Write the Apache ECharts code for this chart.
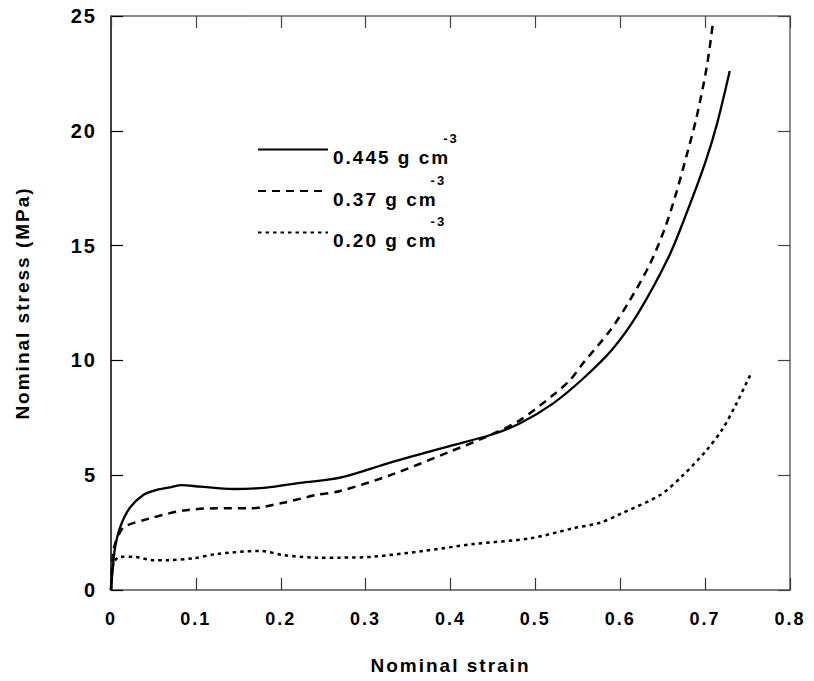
<!DOCTYPE html>
<html>
<head>
<meta charset="utf-8">
<script src="https://cdn.jsdelivr.net/npm/echarts@6/dist/echarts.min.js"></script>
<style>html,body{margin:0;padding:0;background:#fff}#c{width:814px;height:681px}#c text{letter-spacing:2px}</style>
</head>
<body>
<div id="c"></div>
<script>
// Data
var strain445 = [0, 0.002, 0.005, 0.011, 0.022, 0.038, 0.054, 0.07, 0.083, 0.105, 0.144, 0.183, 0.223, 0.27, 0.329, 0.399, 0.447, 0.482, 0.521, 0.556, 0.59, 0.621, 0.657, 0.678, 0.7, 0.714, 0.729];
var stress445 = [0, 0.9, 1.89, 2.76, 3.57, 4.14, 4.36, 4.47, 4.57, 4.5, 4.4, 4.46, 4.67, 4.89, 5.55, 6.27, 6.75, 7.26, 8.13, 9.2, 10.45, 12.05, 14.5, 16.4, 18.6, 20.3, 22.6];
var strain37 = [0, 0.003, 0.009, 0.016, 0.046, 0.085, 0.125, 0.164, 0.203, 0.242, 0.27, 0.329, 0.399, 0.447, 0.482, 0.521, 0.541, 0.556, 0.588, 0.611, 0.635, 0.653, 0.666, 0.678, 0.69, 0.702, 0.709];
var stress37 = [0, 1.74, 2.4, 2.76, 3.12, 3.46, 3.56, 3.56, 3.8, 4.14, 4.31, 5.0, 6.02, 6.75, 7.4, 8.49, 9.15, 9.87, 11.3, 12.6, 14.2, 15.8, 17.3, 18.9, 20.6, 22.8, 24.65];
var strain20 = [0, 0.003, 0.011, 0.026, 0.05, 0.066, 0.097, 0.125, 0.176, 0.203, 0.242, 0.27, 0.309, 0.368, 0.427, 0.494, 0.545, 0.576, 0.6, 0.647, 0.674, 0.702, 0.721, 0.737, 0.755];
var stress20 = [0, 1.17, 1.45, 1.45, 1.3, 1.3, 1.38, 1.57, 1.7, 1.52, 1.41, 1.41, 1.45, 1.70, 2.0, 2.25, 2.69, 2.93, 3.31, 4.14, 5.0, 6.1, 7.04, 8.13, 9.51];
var seriesNames = ['0.445 g cm', '0.37 g cm', '0.20 g cm'];
var unitSup = '-3';
var xName = 'Nominal strain';
var yName = 'Nominal stress (MPa)';

function pairs(xs, ys) { return xs.map(function (x, i) { return [x, ys[i]]; }); }

var FONT = '"Liberation Sans", Arial, sans-serif';
var SPACING = 2; // matches the CSS letter-spacing
var chart = echarts.init(document.getElementById('c'), null, { renderer: 'svg' });
var nameStyle = { fontFamily: FONT, fontWeight: 'bold', fontSize: 19, color: '#000' };

// rich styles for legend: the superscript is shifted by the extra width that letter-spacing adds
var legendRich = { b: { fontFamily: FONT, fontWeight: 'bold', fontSize: 19, color: '#000', padding: [16, 0, 0, 0] } };
seriesNames.forEach(function (n) {
  legendRich['s' + n.length] = { fontFamily: FONT, fontWeight: 'bold', fontSize: 13, color: '#000',
    verticalAlign: 'top', padding: [0, 0, 0, SPACING * (n.length - 2) - 3] };
});

function secAxisLine() { return { show: true, onZero: false, lineStyle: { color: '#666', width: 1.5 } }; }
function secTick() { return { show: true, inside: true, length: 12, lineStyle: { color: '#444', width: 1.2 } }; }

chart.setOption({
  animation: false,
  backgroundColor: '#fff',
  grid: { left: 111, right: 24, top: 16, bottom: 91, containLabel: false },
  legend: {
    orient: 'vertical', left: 252, top: 127,
    itemWidth: 70, itemHeight: 14, itemGap: 6.5,
    itemStyle: { opacity: 0 },
    data: seriesNames,
    formatter: function (n) { return '{b|' + n + '}{s' + n.length + '|' + unitSup + '}'; },
    textStyle: { rich: legendRich }
  },
  xAxis: [{
    type: 'value', min: 0, max: 0.8, interval: 0.1, position: 'bottom',
    name: xName, nameLocation: 'middle', nameGap: 66, nameTextStyle: nameStyle,
    axisLine: { show: true, onZero: false, lineStyle: { color: '#555', width: 1.5 } },
    axisTick: { show: true, inside: true, length: 12, lineStyle: { color: '#333', width: 1.2 } },
    axisLabel: { margin: 20, fontFamily: FONT, fontWeight: 'bold', fontSize: 18, color: '#000',
      formatter: function (v) { return v === 0 ? '0' : v.toFixed(1); } },
    splitLine: { show: false }
  }, {
    type: 'value', min: 0, max: 0.8, interval: 0.1, position: 'top',
    axisLine: secAxisLine(), axisTick: secTick(),
    axisLabel: { show: false }, splitLine: { show: false }
  }],
  yAxis: [{
    type: 'value', min: 0, max: 25, interval: 5, position: 'left',
    name: yName, nameLocation: 'middle', nameGap: 79, nameTextStyle: nameStyle,
    axisLine: { show: true, onZero: false, lineStyle: { color: '#000', width: 1.5 } },
    axisTick: { show: true, inside: true, length: 12, lineStyle: { color: '#000', width: 1.2 } },
    axisLabel: { margin: 14, fontFamily: FONT, fontWeight: 'bold', fontSize: 20, color: '#000' },
    splitLine: { show: false }
  }, {
    type: 'value', min: 0, max: 25, interval: 5, position: 'right',
    axisLine: secAxisLine(), axisTick: secTick(),
    axisLabel: { show: false }, splitLine: { show: false }
  }],
  series: [{
    name: seriesNames[0], type: 'line', data: pairs(strain445, stress445), smooth: 0.3,
    symbol: 'none', lineStyle: { color: '#000', width: 2.3, type: 'solid' }, itemStyle: { color: '#000' }
  }, {
    name: seriesNames[1], type: 'line', data: pairs(strain37, stress37), smooth: 0.3,
    symbol: 'none', lineStyle: { color: '#000', width: 2.5, type: [8, 6] }, itemStyle: { color: '#000' }
  }, {
    name: seriesNames[2], type: 'line', data: pairs(strain20, stress20), smooth: 0.3,
    symbol: 'none', lineStyle: { color: '#000', width: 2.5, type: [3.5, 4] }, itemStyle: { color: '#000' }
  }]
});
</script>
</body>
</html>
